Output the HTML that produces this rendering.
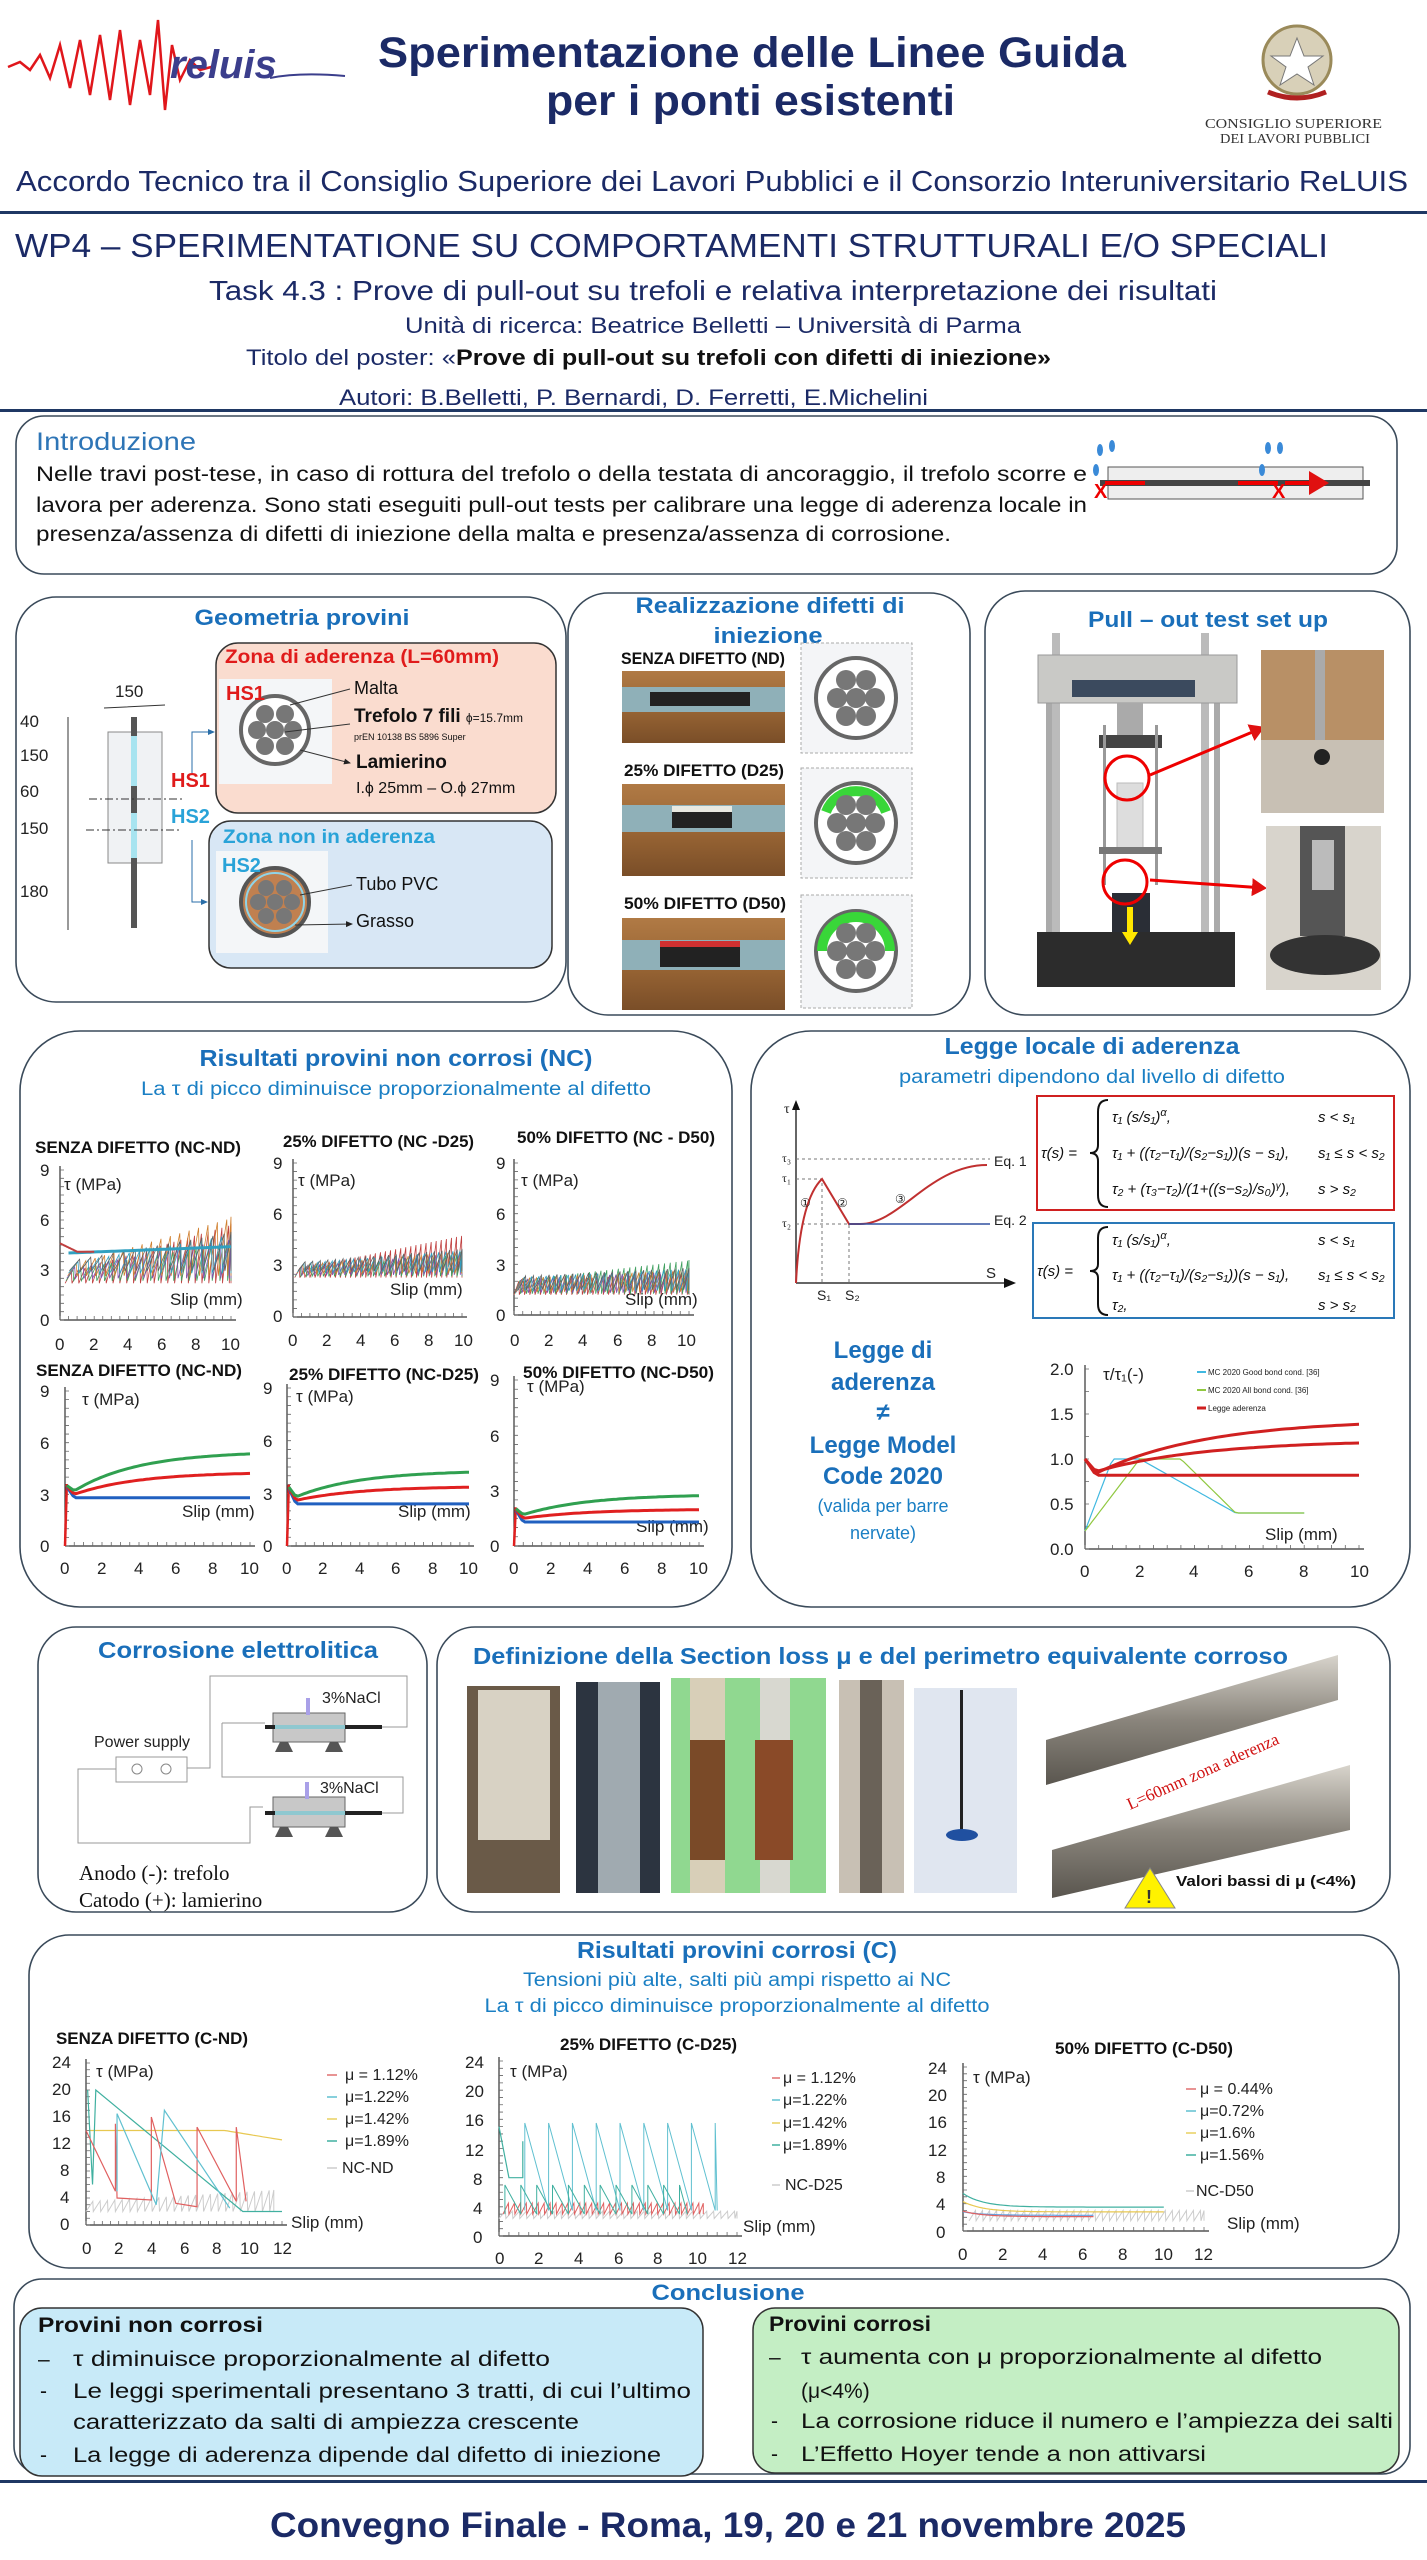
<!DOCTYPE html>
<html><head><meta charset="utf-8"><style>
html,body{margin:0;padding:0;background:#fff}
svg{display:block}
text{font-family:"Liberation Sans",sans-serif}
.serif{font-family:"Liberation Serif",serif}
.h{fill:#1a6fba;font-weight:bold}
.ct{font-weight:bold;font-size:17px;fill:#111}
.ax{font-family:"Liberation Serif",serif;font-size:17px;fill:#222}
.box{fill:#fff;stroke:#3a4a5a;stroke-width:1.6}
</style></head><body>
<svg id="s" width="1427" height="2560" viewBox="0 0 1427 2560" xmlns="http://www.w3.org/2000/svg">
<defs>
<linearGradient id="wood" x1="0" y1="0" x2="0" y2="1"><stop offset="0" stop-color="#b07a45"/><stop offset=".5" stop-color="#9a6635"/><stop offset="1" stop-color="#7a4e28"/></linearGradient>
<linearGradient id="scan" x1="0" y1="0" x2="0" y2="1"><stop offset="0" stop-color="#d8d4cc"/><stop offset=".5" stop-color="#8a857c"/><stop offset="1" stop-color="#5a564f"/></linearGradient>
<marker id="ar" markerWidth="8" markerHeight="8" refX="6" refY="4" orient="auto"><path d="M0,1 L7,4 L0,7z" fill="#222"/></marker>
<marker id="arb" markerWidth="8" markerHeight="8" refX="6" refY="4" orient="auto"><path d="M0,1 L7,4 L0,7z" fill="#2a6ea8"/></marker>
<marker id="arr" markerWidth="6" markerHeight="6" refX="4" refY="3" orient="auto"><path d="M0,0 L5,3 L0,6z" fill="#e01010"/></marker>
</defs>

<!-- HEADER -->
<g>
<path d="M8,67 L20,62 L30,70 L40,55 L50,78 L60,45 L70,88 L80,40 L90,95 L100,35 L110,100 L120,30 L130,105 L140,40 L150,95 L158,20 L165,110 L172,45 L180,80 L190,60 L200,70 L215,66" fill="none" stroke="#e0161b" stroke-width="2.5"/>
<text x="170" y="78" font-size="40" font-style="italic" font-weight="bold" fill="#3b3e8c">reluis</text>
<path d="M270,78 Q300,72 345,76" stroke="#3b3e8c" stroke-width="2" fill="none"/>
<text x="378" y="67" font-size="43" font-weight="bold" fill="#1b2a66" textLength="748" lengthAdjust="spacingAndGlyphs">Sperimentazione delle Linee Guida</text>
<text x="546" y="115" font-size="43" font-weight="bold" fill="#1b2a66" textLength="409" lengthAdjust="spacingAndGlyphs">per i ponti esistenti</text>
<circle cx="1297" cy="60" r="34" fill="#d8d0b8" stroke="#9a8a5a" stroke-width="3"/>
<path d="M1297,38 L1304,56 L1323,56 L1308,67 L1314,85 L1297,74 L1280,85 L1286,67 L1271,56 L1290,56z" fill="#fff" stroke="#777"/>
<path d="M1268,92 Q1297,104 1326,92" stroke="#b02020" stroke-width="5" fill="none"/>
<text x="1205" y="128" font-size="14" class="serif" fill="#333" textLength="177" lengthAdjust="spacingAndGlyphs">CONSIGLIO SUPERIORE</text>
<text x="1220" y="143" font-size="14" class="serif" fill="#333" textLength="150" lengthAdjust="spacingAndGlyphs">DEI LAVORI PUBBLICI</text>
<text x="16" y="191" font-size="29" fill="#1b2a66" textLength="1392" lengthAdjust="spacingAndGlyphs">Accordo Tecnico tra il Consiglio Superiore dei Lavori Pubblici e il Consorzio Interuniversitario ReLUIS</text>
<rect x="0" y="211" width="1427" height="3" fill="#1f3864"/>
<text x="15" y="257" font-size="33" fill="#1b2a66" textLength="1313" lengthAdjust="spacingAndGlyphs">WP4 – SPERIMENTATIONE SU COMPORTAMENTI STRUTTURALI E/O SPECIALI</text>
<text x="209" y="300" font-size="28" fill="#1b2a66" textLength="1008" lengthAdjust="spacingAndGlyphs">Task 4.3 : Prove di pull-out su trefoli e relativa interpretazione dei risultati</text>
<text x="405" y="333" font-size="22" fill="#1b2a66" textLength="616" lengthAdjust="spacingAndGlyphs">Unità di ricerca: Beatrice Belletti – Università di Parma</text>
<text x="246" y="365" font-size="22" fill="#1b2a66" textLength="210" lengthAdjust="spacingAndGlyphs">Titolo del poster: «</text>
<text x="456" y="365" font-size="22" font-weight="bold" fill="#111" textLength="595" lengthAdjust="spacingAndGlyphs">Prove di pull-out su trefoli con difetti di iniezione»</text>
<text x="339" y="405" font-size="22" fill="#1b2a66" textLength="589" lengthAdjust="spacingAndGlyphs">Autori: B.Belletti, P. Bernardi, D. Ferretti, E.Michelini</text>
<rect x="0" y="409" width="1427" height="3" fill="#1f3864"/>
</g>

<!-- INTRO -->
<rect x="16" y="416" width="1381" height="158" rx="28" class="box"/>
<text x="36" y="450" font-size="25" fill="#2e75b6" textLength="160" lengthAdjust="spacingAndGlyphs">Introduzione</text>
<text x="36" y="481" font-size="21" fill="#111" textLength="1051" lengthAdjust="spacingAndGlyphs">Nelle travi post-tese, in caso di rottura del trefolo o della testata di ancoraggio, il trefolo scorre e</text>
<text x="36" y="512" font-size="21" fill="#111" textLength="1051" lengthAdjust="spacingAndGlyphs">lavora per aderenza. Sono stati eseguiti pull-out tests per calibrare una legge di aderenza locale in</text>
<text x="36" y="541" font-size="21" fill="#111" textLength="915" lengthAdjust="spacingAndGlyphs">presenza/assenza di difetti di iniezione della malta e presenza/assenza di corrosione.</text>
<rect x="1108" y="467" width="255" height="32" fill="#eee" stroke="#555"/>
<rect x="1100" y="480" width="270" height="6" fill="#444"/>
<path d="M1105,483 H1145 M1278,483 H1238 M1285,483 H1325" stroke="#e00" stroke-width="4" marker-end="url(#arr)"/>
<text x="1094" y="498" font-size="20" fill="#e00" font-weight="bold">X</text>
<text x="1272" y="498" font-size="20" fill="#e00" font-weight="bold">X</text>
<g fill="#3a8ad8"><ellipse cx="1100" cy="450" rx="3" ry="6"/><ellipse cx="1112" cy="446" rx="3" ry="6"/><ellipse cx="1096" cy="470" rx="3" ry="6"/><ellipse cx="1268" cy="448" rx="3" ry="6"/><ellipse cx="1280" cy="448" rx="3" ry="6"/><ellipse cx="1262" cy="470" rx="3" ry="6"/></g>

<!-- GEOMETRIA -->
<rect x="16" y="597" width="550" height="405" rx="40" class="box"/>
<text x="302" y="625" font-size="22" class="h" text-anchor="middle" textLength="215" lengthAdjust="spacingAndGlyphs">Geometria provini</text>
<rect x="216" y="643" width="340" height="170" rx="22" fill="#fadccf" stroke="#333" stroke-width="1.5"/>
<rect x="209" y="821" width="343" height="147" rx="22" fill="#d8e7f5" stroke="#333" stroke-width="1.5"/>
<text x="225" y="663" font-size="19" font-weight="bold" fill="#e01b1b" textLength="274" lengthAdjust="spacingAndGlyphs">Zona di aderenza (L=60mm)</text>
<rect x="219" y="679" width="113" height="105" fill="#f4f6f8"/>
<circle cx="275" cy="730" r="34" fill="#fff" stroke="#666" stroke-width="4"/>
<g fill="#777"><circle cx="275" cy="730" r="9"/><circle cx="265" cy="714" r="9"/><circle cx="285" cy="714" r="9"/><circle cx="257" cy="730" r="9"/><circle cx="293" cy="730" r="9"/><circle cx="265" cy="746" r="9"/><circle cx="285" cy="746" r="9"/></g>
<text x="226" y="700" font-size="20" font-weight="bold" fill="#e01b1b">HS1</text>
<path d="M290,705 L350,689 M285,732 L350,724 M300,750 L350,763" stroke="#333" stroke-width="1" marker-end="url(#ar)"/>
<text x="354" y="694" font-size="18" fill="#111">Malta</text>
<text x="354" y="722" font-size="19" font-weight="bold" fill="#111">Trefolo 7 fili <tspan font-size="12" font-weight="normal">ϕ=15.7mm</tspan></text>
<text x="354" y="740" font-size="9" fill="#111">prEN 10138 BS 5896 Super</text>
<text x="356" y="768" font-size="19" font-weight="bold" fill="#111">Lamierino</text>
<text x="356" y="793" font-size="16" fill="#111">I.ϕ 25mm – O.ϕ 27mm</text>
<text x="223" y="843" font-size="19" font-weight="bold" fill="#29a3d8" textLength="212" lengthAdjust="spacingAndGlyphs">Zona non in aderenza</text>
<rect x="216" y="851" width="112" height="102" fill="#f4f6f8"/>
<circle cx="275" cy="902" r="34" fill="#c08050" stroke="#555" stroke-width="4"/>
<circle cx="275" cy="902" r="29" fill="none" stroke="#8fd4e8" stroke-width="2"/>
<g fill="#777"><circle cx="275" cy="902" r="8"/><circle cx="266" cy="888" r="8"/><circle cx="284" cy="888" r="8"/><circle cx="258" cy="902" r="8"/><circle cx="292" cy="902" r="8"/><circle cx="266" cy="916" r="8"/><circle cx="284" cy="916" r="8"/></g>
<text x="222" y="872" font-size="20" font-weight="bold" fill="#29a3d8">HS2</text>
<path d="M300,895 L352,885 M295,925 L352,924" stroke="#333" stroke-width="1" marker-end="url(#ar)"/>
<text x="356" y="890" font-size="18" fill="#111">Tubo PVC</text>
<text x="356" y="927" font-size="18" fill="#111">Grasso</text>
<rect x="108" y="732" width="54" height="131" fill="#f0f2f4" stroke="#888"/>
<rect x="131" y="717" width="6" height="211" fill="#555"/>
<rect x="131" y="736" width="6" height="50" fill="#a8e4f0"/>
<rect x="131" y="813" width="6" height="45" fill="#a8e4f0"/>
<path d="M89,799 H185 M86,830 H180" stroke="#333" stroke-dasharray="8,3,2,3"/>
<path d="M68,717 V930 M104,708 L165,705" stroke="#333"/>
<g font-size="17" fill="#222">
<text x="20" y="727">40</text><text x="20" y="761">150</text><text x="20" y="797">60</text><text x="20" y="834">150</text><text x="20" y="897">180</text><text x="115" y="697">150</text></g>
<text x="171" y="787" font-size="20" font-weight="bold" fill="#e01b1b">HS1</text>
<text x="171" y="823" font-size="20" font-weight="bold" fill="#29a3d8">HS2</text>
<path d="M192,773 V732 H214" stroke="#2a6ea8" fill="none" marker-end="url(#arb)"/>
<path d="M192,840 V902 H207" stroke="#2a6ea8" fill="none" marker-end="url(#arb)"/>

<!-- REALIZZAZIONE -->
<rect x="568" y="593" width="402" height="422" rx="40" class="box"/>
<text x="770" y="613" font-size="22" class="h" text-anchor="middle" textLength="269" lengthAdjust="spacingAndGlyphs">Realizzazione difetti di</text>
<text x="768" y="643" font-size="22" class="h" text-anchor="middle" textLength="109" lengthAdjust="spacingAndGlyphs">iniezione</text>
<text x="621" y="664" class="ct" font-size="15" textLength="164" lengthAdjust="spacingAndGlyphs">SENZA DIFETTO (ND)</text>
<text x="624" y="776" class="ct" font-size="15" textLength="160" lengthAdjust="spacingAndGlyphs">25% DIFETTO (D25)</text>
<text x="624" y="909" class="ct" font-size="15" textLength="162" lengthAdjust="spacingAndGlyphs">50% DIFETTO (D50)</text>
<g>
<rect x="622" y="671" width="163" height="72" fill="url(#wood)"/><rect x="622" y="687" width="163" height="25" fill="#8fb0b8"/><rect x="650" y="692" width="100" height="14" fill="#222"/>
<rect x="622" y="784" width="163" height="92" fill="url(#wood)"/><rect x="622" y="805" width="163" height="27" fill="#8fb0b8"/><rect x="672" y="808" width="60" height="20" fill="#222"/><rect x="672" y="806" width="60" height="6" fill="#e8e8e0"/>
<rect x="622" y="918" width="163" height="92" fill="url(#wood)"/><rect x="622" y="940" width="163" height="30" fill="#8fb0b8"/><rect x="660" y="942" width="80" height="25" fill="#222"/><rect x="660" y="941" width="80" height="6" fill="#d03030"/>
</g>
<g>
<rect x="801" y="643" width="111" height="110" fill="#f4f5f7" stroke="#aaa" stroke-dasharray="3,2"/>
<circle cx="856" cy="698" r="40" fill="#fff" stroke="#666" stroke-width="4"/>
<g fill="#777"><circle cx="856" cy="698" r="10"/><circle cx="846" cy="680" r="10"/><circle cx="866" cy="680" r="10"/><circle cx="837" cy="698" r="10"/><circle cx="875" cy="698" r="10"/><circle cx="846" cy="716" r="10"/><circle cx="866" cy="716" r="10"/></g>
<rect x="801" y="768" width="111" height="110" fill="#f4f5f7" stroke="#aaa" stroke-dasharray="3,2"/>
<circle cx="856" cy="823" r="40" fill="#fff" stroke="#666" stroke-width="4"/>
<path d="M826,812 A32,32 0 0 1 886,812" stroke="#39d639" stroke-width="10" fill="none"/>
<g fill="#777"><circle cx="856" cy="823" r="10"/><circle cx="846" cy="805" r="10"/><circle cx="866" cy="805" r="10"/><circle cx="837" cy="823" r="10"/><circle cx="875" cy="823" r="10"/><circle cx="846" cy="841" r="10"/><circle cx="866" cy="841" r="10"/></g>
<rect x="801" y="895" width="111" height="113" fill="#f4f5f7" stroke="#aaa" stroke-dasharray="3,2"/>
<circle cx="856" cy="951" r="40" fill="#fff" stroke="#666" stroke-width="4"/>
<path d="M822,951 A34,34 0 0 1 890,951" stroke="#39d639" stroke-width="10" fill="none"/>
<g fill="#777"><circle cx="856" cy="951" r="10"/><circle cx="846" cy="933" r="10"/><circle cx="866" cy="933" r="10"/><circle cx="837" cy="951" r="10"/><circle cx="875" cy="951" r="10"/><circle cx="846" cy="969" r="10"/><circle cx="866" cy="969" r="10"/></g>
</g>

<!-- PULL-OUT -->
<rect x="985" y="591" width="425" height="424" rx="40" class="box"/>
<text x="1208" y="627" font-size="22" class="h" text-anchor="middle" textLength="240" lengthAdjust="spacingAndGlyphs">Pull – out test set up</text>
<g>
<rect x="1052" y="633" width="8" height="300" fill="#bbb"/><rect x="1201" y="633" width="8" height="300" fill="#bbb"/>
<rect x="1046" y="700" width="6" height="235" fill="#aaa"/><rect x="1214" y="700" width="6" height="235" fill="#aaa"/>
<rect x="1038" y="655" width="199" height="48" fill="#c9c9c6" stroke="#999"/>
<rect x="1072" y="680" width="123" height="17" fill="#3b4a5e"/>
<rect x="1117" y="703" width="26" height="34" fill="#aaa"/>
<rect x="1099" y="735" width="63" height="13" fill="#444"/>
<rect x="1103" y="725" width="3" height="160" fill="#999"/><rect x="1155" y="725" width="3" height="160" fill="#999"/>
<rect x="1117" y="783" width="26" height="65" fill="#ddd" stroke="#bbb"/>
<rect x="1099" y="847" width="63" height="7" fill="#777"/>
<rect x="1112" y="893" width="38" height="50" fill="#2a2e36"/>
<rect x="1037" y="932" width="198" height="55" fill="#2c2c2c"/>
<path d="M1130,907 V935" stroke="#ffe600" stroke-width="6"/><path d="M1122,932 L1130,945 L1138,932z" fill="#ffe600"/>
<circle cx="1127" cy="778" r="22" fill="none" stroke="#e00" stroke-width="3"/>
<circle cx="1125" cy="882" r="22" fill="none" stroke="#e00" stroke-width="3"/>
<path d="M1150,775 L1262,728" stroke="#e00" stroke-width="3" marker-end="url(#arr)"/>
<path d="M1150,880 L1264,888" stroke="#e00" stroke-width="3" marker-end="url(#arr)"/>
<rect x="1261" y="650" width="123" height="163" fill="#b89066"/><rect x="1261" y="740" width="123" height="73" fill="#c8c0b4"/><rect x="1315" y="650" width="10" height="90" fill="#aaa"/><circle cx="1322" cy="757" r="8" fill="#222"/>
<rect x="1266" y="826" width="115" height="164" fill="#d8d4cc"/><rect x="1300" y="826" width="45" height="110" fill="#555"/><rect x="1312" y="840" width="22" height="50" fill="#bbb"/><ellipse cx="1325" cy="955" rx="55" ry="20" fill="#333"/>
</g>

<!-- NC RESULTS -->
<rect x="20" y="1031" width="712" height="576" rx="60" class="box"/>
<text x="396" y="1066" font-size="23" class="h" text-anchor="middle" textLength="393" lengthAdjust="spacingAndGlyphs">Risultati provini non corrosi (NC)</text>
<text x="396" y="1095" font-size="19" fill="#1a7fc4" text-anchor="middle" textLength="510" lengthAdjust="spacingAndGlyphs">La τ di picco diminuisce proporzionalmente al difetto</text>
<text x="35" y="1153" class="ct" textLength="206" lengthAdjust="spacingAndGlyphs">SENZA DIFETTO (NC-ND)</text>
<text x="283" y="1147" class="ct" textLength="191" lengthAdjust="spacingAndGlyphs">25% DIFETTO (NC -D25)</text>
<text x="517" y="1143" class="ct" textLength="198" lengthAdjust="spacingAndGlyphs">50% DIFETTO (NC - D50)</text>
<text x="36" y="1376" class="ct" textLength="206" lengthAdjust="spacingAndGlyphs">SENZA DIFETTO (NC-ND)</text>
<text x="289" y="1380" class="ct" textLength="190" lengthAdjust="spacingAndGlyphs">25% DIFETTO (NC-D25)</text>
<text x="523" y="1378" class="ct" textLength="191" lengthAdjust="spacingAndGlyphs">50% DIFETTO (NC-D50)</text>
<g class="ax">
<text x="40" y="1176">9</text><text x="40" y="1226">6</text><text x="40" y="1276">3</text><text x="40" y="1326">0</text>
<text x="64" y="1190">τ (MPa)</text><text x="170" y="1305">Slip (mm)</text>
<text x="55" y="1350">0</text><text x="89" y="1350">2</text><text x="123" y="1350">4</text><text x="157" y="1350">6</text><text x="191" y="1350">8</text><text x="221" y="1350">10</text>
<text x="273" y="1169">9</text><text x="273" y="1220">6</text><text x="273" y="1271">3</text><text x="273" y="1322">0</text>
<text x="298" y="1186">τ (MPa)</text><text x="390" y="1295">Slip (mm)</text>
<text x="288" y="1346">0</text><text x="322" y="1346">2</text><text x="356" y="1346">4</text><text x="390" y="1346">6</text><text x="424" y="1346">8</text><text x="454" y="1346">10</text>
<text x="496" y="1169">9</text><text x="496" y="1220">6</text><text x="496" y="1271">3</text><text x="496" y="1321">0</text>
<text x="521" y="1186">τ (MPa)</text><text x="625" y="1305">Slip (mm)</text>
<text x="510" y="1346">0</text><text x="544" y="1346">2</text><text x="578" y="1346">4</text><text x="613" y="1346">6</text><text x="647" y="1346">8</text><text x="677" y="1346">10</text>
<text x="40" y="1397">9</text><text x="40" y="1449">6</text><text x="40" y="1501">3</text><text x="40" y="1552">0</text>
<text x="82" y="1405">τ (MPa)</text><text x="182" y="1517">Slip (mm)</text>
<text x="60" y="1574">0</text><text x="97" y="1574">2</text><text x="134" y="1574">4</text><text x="171" y="1574">6</text><text x="208" y="1574">8</text><text x="240" y="1574">10</text>
<text x="263" y="1394">9</text><text x="263" y="1447">6</text><text x="263" y="1500">3</text><text x="263" y="1552">0</text>
<text x="296" y="1402">τ (MPa)</text><text x="398" y="1517">Slip (mm)</text>
<text x="282" y="1574">0</text><text x="318" y="1574">2</text><text x="355" y="1574">4</text><text x="391" y="1574">6</text><text x="428" y="1574">8</text><text x="459" y="1574">10</text>
<text x="490" y="1386">9</text><text x="490" y="1442">6</text><text x="490" y="1497">3</text><text x="490" y="1552">0</text>
<text x="527" y="1392">τ (MPa)</text><text x="636" y="1532">Slip (mm)</text>
<text x="509" y="1574">0</text><text x="546" y="1574">2</text><text x="583" y="1574">4</text><text x="620" y="1574">6</text><text x="657" y="1574">8</text><text x="689" y="1574">10</text>
</g>

<!-- LEGGE -->
<rect x="751" y="1031" width="659" height="576" rx="60" class="box"/>
<text x="1092" y="1054" font-size="23" class="h" text-anchor="middle" textLength="295" lengthAdjust="spacingAndGlyphs">Legge locale di aderenza</text>
<text x="1092" y="1083" font-size="19" fill="#1a7fc4" text-anchor="middle" textLength="386" lengthAdjust="spacingAndGlyphs">parametri dipendono dal livello di difetto</text>
<path d="M796,1283 V1106" stroke="#333" stroke-width="1.5"/><path d="M792,1110 L796,1100 L800,1110z" fill="#111"/>
<path d="M796,1283 H1008" stroke="#333" stroke-width="1.5"/><path d="M1004,1278 L1016,1283 L1004,1288z" fill="#111"/>
<path d="M796,1159 H990 M796,1179 H822 V1283 M796,1224 H849 V1283" stroke="#777" stroke-dasharray="3,3" fill="none"/>
<path d="M796,1283 Q800,1200 822,1179 L849,1224 L860,1224 C900,1224 930,1165 987,1165" stroke="#c03030" stroke-width="2" fill="none"/>
<path d="M849,1224 H990" stroke="#3050a0" stroke-width="1.5"/>
<g font-size="12" fill="#222"><text x="784" y="1113" font-size="14" class="serif">τ</text>
<text x="782" y="1162" class="serif">τ₃</text><text x="782" y="1182" class="serif">τ₁</text><text x="782" y="1227" class="serif">τ₂</text>
<text x="994" y="1166" font-size="14">Eq. 1</text><text x="994" y="1225" font-size="14">Eq. 2</text>
<text x="986" y="1278" font-size="15">S</text><text x="817" y="1300" font-size="14">S₁</text><text x="845" y="1300" font-size="14">S₂</text>
<text x="800" y="1207">①</text><text x="837" y="1207">②</text><text x="895" y="1203">③</text></g>
<rect x="1037" y="1096" width="357" height="114" fill="#fff" stroke="#d02020" stroke-width="2"/>
<rect x="1033" y="1223" width="361" height="95" fill="#fff" stroke="#2a78b8" stroke-width="2"/>
<path d="M1108,1100 Q1098,1100 1098,1112 V1145 Q1098,1153 1090,1153 Q1098,1153 1098,1161 V1195 Q1098,1207 1108,1207" stroke="#111" stroke-width="2" fill="none"/>
<path d="M1108,1227 Q1098,1227 1098,1238 V1264 Q1098,1271 1090,1271 Q1098,1271 1098,1278 V1304 Q1098,1315 1108,1315" stroke="#111" stroke-width="2" fill="none"/>
<g class="serif" font-size="15" fill="#111" font-style="italic">
<text x="1041" y="1158">τ(s) =</text>
<text x="1112" y="1122">τ₁ (s/s₁)<tspan baseline-shift="super" font-size="11">α</tspan>,</text><text x="1318" y="1122">s &lt; s₁</text>
<text x="1112" y="1158">τ₁ + ((τ₂−τ₁)/(s₂−s₁))(s − s₁),</text><text x="1318" y="1158">s₁ ≤ s &lt; s₂</text>
<text x="1112" y="1194">τ₂ + (τ₃−τ₂)/(1+((s−s₂)/s₀)<tspan baseline-shift="super" font-size="10">γ</tspan>),</text><text x="1318" y="1194">s &gt; s₂</text>
<text x="1037" y="1276">τ(s) =</text>
<text x="1112" y="1245">τ₁ (s/s₁)<tspan baseline-shift="super" font-size="11">α</tspan>,</text><text x="1318" y="1245">s &lt; s₁</text>
<text x="1112" y="1280">τ₁ + ((τ₂−τ₁)/(s₂−s₁))(s − s₁),</text><text x="1318" y="1280">s₁ ≤ s &lt; s₂</text>
<text x="1112" y="1310">τ₂,</text><text x="1318" y="1310">s &gt; s₂</text></g>
<g class="h" font-size="24" text-anchor="middle">
<text x="883" y="1358">Legge di</text><text x="883" y="1390">aderenza</text><text x="883" y="1420">≠</text><text x="883" y="1453">Legge Model</text><text x="883" y="1484">Code 2020</text></g>
<g font-size="18" fill="#1a7fc4" text-anchor="middle"><text x="883" y="1512">(valida per barre</text><text x="883" y="1539">nervate)</text></g>
<g class="ax">
<text x="1050" y="1375">2.0</text><text x="1050" y="1420">1.5</text><text x="1050" y="1465">1.0</text><text x="1050" y="1510">0.5</text><text x="1050" y="1555">0.0</text>
<text x="1103" y="1380">τ/τ₁(-)</text><text x="1265" y="1540">Slip (mm)</text>
<text x="1080" y="1577">0</text><text x="1135" y="1577">2</text><text x="1189" y="1577">4</text><text x="1244" y="1577">6</text><text x="1299" y="1577">8</text><text x="1350" y="1577">10</text>
<g font-size="8"><text x="1208" y="1375">MC 2020 Good bond cond. [36]</text><text x="1208" y="1393">MC 2020 All bond cond. [36]</text><text x="1208" y="1411">Legge aderenza</text></g></g>
<path d="M1197,1372 H1206" stroke="#40b8e0" stroke-width="2"/><path d="M1197,1390 H1206" stroke="#90c840" stroke-width="2"/><path d="M1197,1408 H1206" stroke="#d02020" stroke-width="3"/>

<!-- CORROSIONE -->
<rect x="38" y="1627" width="389" height="285" rx="38" class="box"/>
<text x="238" y="1658" font-size="23" class="h" text-anchor="middle" textLength="280" lengthAdjust="spacingAndGlyphs">Corrosione elettrolitica</text>
<path d="M187,1768 H210 V1676 H407 V1727 H382 M222,1723 V1777 H403 V1813 H380 M222,1723 H265 M116,1769 H78 V1843 H250 V1807 H263" stroke="#999" fill="none"/>
<rect x="116" y="1757" width="71" height="25" fill="#fff" stroke="#999"/>
<circle cx="137" cy="1769" r="5" fill="none" stroke="#888"/><circle cx="166" cy="1769" r="5" fill="none" stroke="#888"/>
<rect x="273" y="1713" width="72" height="29" fill="#c8c8c8" stroke="#666"/><rect x="265" y="1725" width="117" height="4" fill="#222"/><rect x="275" y="1725" width="70" height="4" fill="#8fc8d0"/><rect x="306" y="1698" width="4" height="17" fill="#a9a0e8"/>
<rect x="273" y="1797" width="72" height="30" fill="#c8c8c8" stroke="#666"/><rect x="265" y="1811" width="117" height="4" fill="#222"/><rect x="275" y="1811" width="70" height="4" fill="#8fc8d0"/><rect x="305" y="1782" width="4" height="17" fill="#a9a0e8"/>
<g fill="#555"><path d="M275,1752 L280,1742 L288,1742 L293,1752z M325,1752 L330,1742 L338,1742 L343,1752z M275,1837 L280,1827 L288,1827 L293,1837z M325,1837 L330,1827 L338,1827 L343,1837z"/></g>
<text x="322" y="1703" font-size="16" fill="#222">3%NaCl</text><text x="320" y="1793" font-size="16" fill="#222">3%NaCl</text>
<text x="94" y="1747" font-size="16" fill="#222">Power supply</text>
<text x="79" y="1880" class="serif" font-size="21" fill="#111">Anodo (-): trefolo</text>
<text x="79" y="1907" class="serif" font-size="21" fill="#111">Catodo (+): lamierino</text>

<!-- DEFINIZIONE -->
<rect x="437" y="1627" width="953" height="285" rx="38" class="box"/>
<text x="473" y="1664" font-size="23" class="h" textLength="815" lengthAdjust="spacingAndGlyphs">Definizione della Section loss μ e del perimetro equivalente corroso</text>
<rect x="467" y="1686" width="93" height="207" fill="#6a5a48"/><rect x="478" y="1690" width="72" height="150" fill="#d8d2c4"/>
<rect x="576" y="1682" width="84" height="211" fill="#2c3440"/><rect x="598" y="1682" width="42" height="211" fill="#a0aab0"/>
<rect x="671" y="1678" width="155" height="215" fill="#90d890"/><rect x="690" y="1678" width="35" height="215" fill="#d8cfb8"/><rect x="760" y="1678" width="30" height="215" fill="#d8d8d0"/><rect x="755" y="1740" width="38" height="120" fill="#8a4a28"/><rect x="690" y="1740" width="35" height="120" fill="#7a4a28"/>
<rect x="839" y="1680" width="65" height="213" fill="#c8c0b4"/><rect x="860" y="1680" width="22" height="213" fill="#6a6258"/>
<rect x="914" y="1688" width="103" height="205" fill="#e0e6f0"/><rect x="960" y="1690" width="3" height="140" fill="#222"/><ellipse cx="962" cy="1835" rx="16" ry="6" fill="#2050a0"/>
<path d="M1046,1740 L1338,1655 L1338,1700 L1046,1785z" fill="url(#scan)"/>
<path d="M1052,1850 L1350,1765 L1350,1830 L1052,1898z" fill="url(#scan)"/>
<text x="1130" y="1810" font-size="17" class="serif" fill="#d01010" transform="rotate(-24 1130 1810)">L=60mm zona aderenza</text>
<path d="M1125,1908 L1150,1868 L1175,1908z" fill="#fff200" stroke="#888"/><text x="1146" y="1903" font-size="18" font-weight="bold" fill="#333">!</text>
<text x="1176" y="1886" font-size="15" font-weight="bold" fill="#111" textLength="180" lengthAdjust="spacingAndGlyphs">Valori bassi di μ (&lt;4%)</text>

<!-- CORROSI RESULTS -->
<rect x="29" y="1935" width="1370" height="333" rx="40" class="box"/>
<text x="737" y="1958" font-size="23" class="h" text-anchor="middle" textLength="320" lengthAdjust="spacingAndGlyphs">Risultati provini corrosi (C)</text>
<text x="737" y="1986" font-size="19" fill="#1a7fc4" text-anchor="middle" textLength="428" lengthAdjust="spacingAndGlyphs">Tensioni più alte, salti più ampi rispetto ai NC</text>
<text x="737" y="2012" font-size="19" fill="#1a7fc4" text-anchor="middle" textLength="505" lengthAdjust="spacingAndGlyphs">La τ di picco diminuisce proporzionalmente al difetto</text>
<text x="56" y="2044" class="ct" font-size="15" textLength="192" lengthAdjust="spacingAndGlyphs">SENZA DIFETTO (C-ND)</text>
<text x="560" y="2050" class="ct" font-size="15" textLength="177" lengthAdjust="spacingAndGlyphs">25% DIFETTO (C-D25)</text>
<text x="1055" y="2054" class="ct" font-size="15" textLength="178" lengthAdjust="spacingAndGlyphs">50% DIFETTO (C-D50)</text>
<g class="ax" font-size="16">
<text x="52" y="2068">24</text><text x="52" y="2095">20</text><text x="52" y="2122">16</text><text x="52" y="2149">12</text><text x="60" y="2176">8</text><text x="60" y="2203">4</text><text x="60" y="2230">0</text>
<text x="96" y="2077">τ (MPa)</text><text x="291" y="2228">Slip (mm)</text>
<text x="82" y="2254">0</text><text x="114" y="2254">2</text><text x="147" y="2254">4</text><text x="180" y="2254">6</text><text x="212" y="2254">8</text><text x="240" y="2254">10</text><text x="273" y="2254">12</text>
<text x="465" y="2068">24</text><text x="465" y="2097">20</text><text x="465" y="2126">16</text><text x="465" y="2156">12</text><text x="473" y="2185">8</text><text x="473" y="2214">4</text><text x="473" y="2243">0</text>
<text x="510" y="2077">τ (MPa)</text><text x="743" y="2232">Slip (mm)</text>
<text x="495" y="2264">0</text><text x="534" y="2264">2</text><text x="574" y="2264">4</text><text x="614" y="2264">6</text><text x="653" y="2264">8</text><text x="688" y="2264">10</text><text x="728" y="2264">12</text>
<text x="928" y="2074">24</text><text x="928" y="2101">20</text><text x="928" y="2128">16</text><text x="928" y="2156">12</text><text x="936" y="2183">8</text><text x="936" y="2210">4</text><text x="936" y="2238">0</text>
<text x="973" y="2083">τ (MPa)</text><text x="1227" y="2229">Slip (mm)</text>
<text x="958" y="2260">0</text><text x="998" y="2260">2</text><text x="1038" y="2260">4</text><text x="1078" y="2260">6</text><text x="1118" y="2260">8</text><text x="1154" y="2260">10</text><text x="1194" y="2260">12</text>
<g font-size="16">
<text x="345" y="2080">μ = 1.12%</text><text x="345" y="2102">μ=1.22%</text><text x="345" y="2124">μ=1.42%</text><text x="345" y="2146">μ=1.89%</text><text x="342" y="2173">NC-ND</text>
<text x="783" y="2083">μ = 1.12%</text><text x="783" y="2105">μ=1.22%</text><text x="783" y="2128">μ=1.42%</text><text x="783" y="2150">μ=1.89%</text><text x="785" y="2190">NC-D25</text>
<text x="1200" y="2094">μ = 0.44%</text><text x="1200" y="2116">μ=0.72%</text><text x="1200" y="2138">μ=1.6%</text><text x="1200" y="2160">μ=1.56%</text><text x="1196" y="2196">NC-D50</text></g></g>
<g stroke-width="1.5"><path d="M327,2075 h10" stroke="#e07070"/><path d="M327,2097 h10" stroke="#60c0d0"/><path d="M327,2119 h10" stroke="#e8d060"/><path d="M327,2141 h10" stroke="#40b0a0"/><path d="M327,2168 h10" stroke="#ccc"/>
<path d="M772,2078 h8" stroke="#e07070"/><path d="M772,2100 h8" stroke="#60c0d0"/><path d="M772,2123 h8" stroke="#e8d060"/><path d="M772,2145 h8" stroke="#40b0a0"/><path d="M772,2185 h8" stroke="#ccc"/>
<path d="M1186,2089 h10" stroke="#e07070"/><path d="M1186,2111 h10" stroke="#60c0d0"/><path d="M1186,2133 h10" stroke="#e8d060"/><path d="M1186,2155 h10" stroke="#40b0a0"/><path d="M1186,2191 h8" stroke="#ccc"/></g>

<!-- CONCLUSIONE -->
<rect x="14" y="2279" width="1396" height="195" rx="28" class="box"/>
<text x="728" y="2300" font-size="22" class="h" text-anchor="middle" textLength="153" lengthAdjust="spacingAndGlyphs">Conclusione</text>
<rect x="20" y="2308" width="683" height="168" rx="22" fill="#c8eaf8" stroke="#333" stroke-width="1.5"/>
<rect x="753" y="2308" width="646" height="165" rx="22" fill="#c4eec4" stroke="#333" stroke-width="1.5"/>
<g font-size="21" fill="#111">
<text x="38" y="2332" font-weight="bold" textLength="225" lengthAdjust="spacingAndGlyphs">Provini non corrosi</text>
<text x="38" y="2366">–</text><text x="73" y="2366" textLength="477" lengthAdjust="spacingAndGlyphs">τ diminuisce proporzionalmente al difetto</text>
<text x="40" y="2398">-</text><text x="73" y="2398" textLength="618" lengthAdjust="spacingAndGlyphs">Le leggi sperimentali presentano 3 tratti, di cui l’ultimo</text>
<text x="73" y="2429" textLength="506" lengthAdjust="spacingAndGlyphs">caratterizzato da salti di ampiezza crescente</text>
<text x="40" y="2462">-</text><text x="73" y="2462" textLength="588" lengthAdjust="spacingAndGlyphs">La legge di aderenza dipende dal difetto di iniezione</text>
<text x="769" y="2331" font-weight="bold" textLength="162" lengthAdjust="spacingAndGlyphs">Provini corrosi</text>
<text x="769" y="2364">–</text><text x="801" y="2364" textLength="521" lengthAdjust="spacingAndGlyphs">τ aumenta con μ proporzionalmente al difetto</text>
<text x="801" y="2398">(μ&lt;4%)</text>
<text x="771" y="2428">-</text><text x="801" y="2428" textLength="592" lengthAdjust="spacingAndGlyphs">La corrosione riduce il numero e l’ampiezza dei salti</text>
<text x="771" y="2461">-</text><text x="801" y="2461" textLength="405" lengthAdjust="spacingAndGlyphs">L’Effetto Hoyer tende a non attivarsi</text>
</g>
<rect x="0" y="2480" width="1427" height="3" fill="#1f3864"/>
<text x="270" y="2537" font-size="35" font-weight="bold" fill="#1b2a66" textLength="916" lengthAdjust="spacingAndGlyphs">Convegno Finale  -  Roma, 19, 20 e 21 novembre 2025</text>
<g id="dyn"></g>
</svg>
<script>
(function(){
var g=document.getElementById('dyn'),NS='http://www.w3.org/2000/svg';
function P(d,c,w){var p=document.createElementNS(NS,'path');p.setAttribute('d',d);p.setAttribute('fill','none');p.setAttribute('stroke',c);p.setAttribute('stroke-width',w||1);g.appendChild(p);}
function C(x0,x1,xm,y0,y1,ym){return{X:function(s){return x0+s/xm*(x1-x0)},Y:function(v){return y0-v/ym*(y0-y1)},x0:x0,x1:x1,y0:y0,y1:y1,xm:xm};}
function axes(c,nx,ny){P('M'+c.x0+','+c.y0+'V'+(c.y1-4)+'M'+c.x0+','+c.y0+'H'+(c.x1+5),'#333',1.2);
 var d='';for(var i=0;i<=nx;i++){var x=c.x0+i*(c.x1-c.x0)/nx;d+='M'+x+','+c.y0+'v-4';}
 for(var j=0;j<=ny;j++){var y=c.y0-j*(c.y0-c.y1)/ny;d+='M'+c.x0+','+y+'h4';}P(d,'#666',0.8);}
function saw(c,col,s0,s1,per,bf,af,w){var d='';for(var s=s0;s<s1;s+=per){var b=bf(s),a=af(s);d+=(d?'L':'M')+c.X(s).toFixed(1)+','+c.Y(b).toFixed(1)+'L'+c.X(Math.min(s+per*.92,s1)).toFixed(1)+','+c.Y(b+a).toFixed(1)+'L'+c.X(Math.min(s+per,s1)).toFixed(1)+','+c.Y(b).toFixed(1);}P(d,col,w||0.8);}
function drop(c,col,s0,s1,per,bf,af,w){var d='';for(var s=s0;s<s1;s+=per){var b=bf(s),a=af(s);d+=(d?'L':'M')+c.X(s).toFixed(1)+','+c.Y(b).toFixed(1)+'V'+c.Y(b+a).toFixed(1)+'L'+c.X(Math.min(s+per,s1)).toFixed(1)+','+c.Y(b).toFixed(1);}P(d,col,w||1);}
function curve(c,col,f,s0,s1,w){var d='';for(var s=s0;s<=s1+1e-9;s+=(s1-s0)/60){d+=(d?'L':'M')+c.X(s).toFixed(1)+','+c.Y(f(s)).toFixed(1);}P(d,col,w||2);}
var cols=['#c04040','#40a060','#8050b0','#d08030','#30a0c0','#606060','#a0a030','#3060c0'];
var c1=C(60,231,10,1320,1170,9),c2=C(293,462,10,1317,1163,9),c3=C(514,689,10,1315,1163,9);
[c1,c2,c3].forEach(function(c){axes(c,20,18)});
for(var k=0;k<6;k++){(function(k){saw(c1,cols[k],0.3+k*.05,10,0.4+k*.05,function(s){return 2.2+k*.15},function(s){return 0.6+s*0.3*(k%3==0?1:0.6)})})(k);}
curve(c1,'#30a0c0',function(s){return 4.0+s*.04},0.5,10,3);curve(c1,'#c04040',function(s){return s<1?4.6-s*.5:4.1},0,2,2);
for(var k=0;k<6;k++){(function(k){saw(c2,cols[k],0.1+k*.04,10,0.3+k*.03,function(s){return 2.3+k*.08},function(s){return 0.5+s*(k==0?0.2:0.08)})})(k);}
for(var k=0;k<6;k++){(function(k){saw(c3,cols[k],0.05*k,10,0.3+k*.03,function(s){return 1.2+k*.06},function(s){return 0.8+s*(k==1?0.12:0.05)})})(k);}
var b1=C(65,250,10,1546,1391,9),b2=C(287,469,10,1546,1388,9),b3=C(514,699,10,1546,1380,9);
[b1,b2,b3].forEach(function(c){axes(c,20,18)});
function bc(c,p,lo,g,h){curve(c,'#e02020',function(s){return s<0.1?p*s/0.1:p},0,0.1,2.5);
 curve(c,'#2060c0',function(s){return s<0.5?p-(p-lo)*s/0.5:lo},0.1,10,3);
 curve(c,'#e02020',function(s){return s<0.5?p-(p-lo-0.2)*s/0.5:lo+0.2+(h-lo-0.2)*(1-Math.exp(-(s-0.5)/3.5))},0.1,10,3);
 curve(c,'#30a050',function(s){return s<0.5?p-(p-lo-0.4)*s/0.5:lo+0.4+(g-lo-0.4)*(1-Math.exp(-(s-0.5)/3.5))},0.1,10,3);}
bc(b1,3.6,2.8,5.5,4.3);bc(b2,3.5,2.4,4.3,3.4);bc(b3,2.1,1.3,2.8,2.0);
var L=C(1085,1359,10,1549,1369,2);axes(L,20,8);
curve(L,'#40b8e0',function(s){return s<1?0.2+0.8*s:(s<2?1:(s<5.5?1-(s-2)/3.5*0.6:0.4))},0,8,1.2);
curve(L,'#90c840',function(s){return s<2?0.2+0.4*s:(s<3.5?1:(s<5.5?1-(s-3.5)/2*0.6:0.4))},0,8,1.2);
curve(L,'#d02020',function(s){return s<0.4?1-0.45*s:0.82},0,10,3);
curve(L,'#d02020',function(s){return s<0.4?1-0.4*s:0.84+0.6*(1-Math.exp(-(s-0.4)/4))},0,10,3);
curve(L,'#d02020',function(s){return s<0.4?1-0.35*s:0.86+0.35*(1-Math.exp(-(s-0.4)/4))},0,10,3);
var cA=C(86,282,12,2225,2063,24),cB=C(499,737,12,2236,2061,24),cC=C(963,1204,12,2231,2067,24);
[cA,cB,cC].forEach(function(c){axes(c,24,24)});
saw(cA,'#ccc',0,11.5,0.45,function(){return 2},function(s){return 1.5+s*.15},1);
curve(cA,'#e8c850',function(s){return 14-(s>8.5?(s-8.5)*0.4:0)},0.2,12,1.2);
P('M'+cA.X(0.1)+','+cA.Y(20)+'L'+cA.X(0.4)+','+cA.Y(6)+'L'+cA.X(0.6)+','+cA.Y(20)+'L'+cA.X(9.6)+','+cA.Y(2)+'L'+cA.X(12)+','+cA.Y(2),'#40b0a0',1.2);
P('M'+cA.X(0)+','+cA.Y(14)+'L'+cA.X(1.8)+','+cA.Y(5)+'V'+cA.Y(15)+'L'+cA.X(1.9)+','+cA.Y(4)+'L'+cA.X(4)+','+cA.Y(3.7)+'V'+cA.Y(16)+'L'+cA.X(5.5)+','+cA.Y(3.2)+'L'+cA.X(6.8)+','+cA.Y(2.7)+'V'+cA.Y(14.5)+'L'+cA.X(9.2)+','+cA.Y(3.5)+'V'+cA.Y(14.5)+'L'+cA.X(9.8)+','+cA.Y(3.5),'#e06060',1.2);
P('M'+cA.X(1.9)+','+cA.Y(5)+'V'+cA.Y(16.5)+'L'+cA.X(4.3)+','+cA.Y(3)+'L'+cA.X(4.8)+','+cA.Y(17)+'L'+cA.X(8.8)+','+cA.Y(2.5),'#60c0d0',1.2);
saw(cB,'#ccc',0,12,0.35,function(){return 2.4},function(){return 1},1);
saw(cB,'#e06060',0.2,10.3,0.3,function(){return 3},function(){return 1.5},1);
drop(cB,'#60c0d0',1.3,11,1.2,function(s){return 3.5},function(s){return 12},1);
drop(cB,'#40b0a0',0.3,9.5,0.8,function(s){return 3},function(s){return 4},1);
P('M'+cB.X(0)+','+cB.Y(15)+'L'+cB.X(0.5)+','+cB.Y(8)+'H'+cB.X(1.2)+'V'+cB.Y(13),'#40b0a0',1.2);
saw(cC,'#ccc',0.3,12,0.35,function(){return 1.5},function(){return 1.5},1);
curve(cC,'#40b0a0',function(s){return 3.5+2*Math.exp(-s)},0,10,1.2);
curve(cC,'#e8c850',function(s){return 2.8+1.5*Math.exp(-s)},0,10,1.2);
curve(cC,'#60a0e0',function(s){return 2.3+0.5*Math.exp(-s)},0,6.5,1.2);
curve(cC,'#e06060',function(s){return 2.1+0.8*Math.exp(-s)},0,6.5,1.2);
})();
</script>
</body></html>
